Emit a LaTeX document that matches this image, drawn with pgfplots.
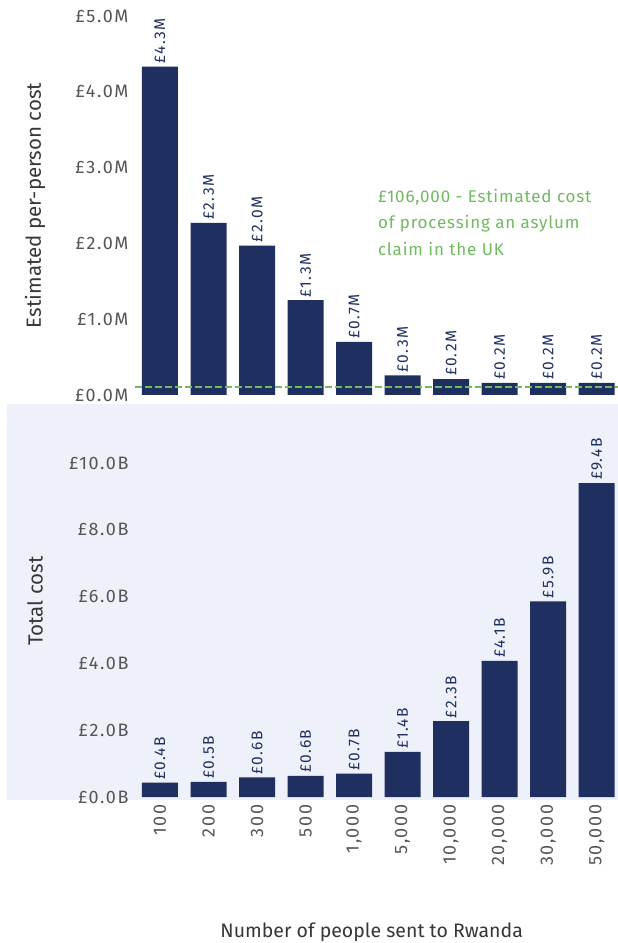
\documentclass[border=0pt]{standalone}
\usepackage{pgfplots}
\pgfplotsset{compat=1.18}
\usepackage{pgfplotstable}
\usepackage{fontspec}
\setmainfont{Fira Sans}
\newfontfamily\widefont[LetterSpace=9]{Fira Sans}

\definecolor{navy}{RGB}{31,48,96}
\definecolor{panel}{RGB}{238,241,250}
\definecolor{annot}{RGB}{112,186,96}
\definecolor{ticktxt}{RGB}{85,85,85}
\definecolor{labtxt}{RGB}{55,55,55}

% per-person cost (GBP millions)
\pgfplotstableread{
x val lab
0 4.33 £4.3M
1 2.27 £2.3M
2 1.97 £2.0M
3 1.25 £1.3M
4 0.70 £0.7M
5 0.26 £0.3M
6 0.21 £0.2M
7 0.16 £0.2M
8 0.16 £0.2M
9 0.16 £0.2M
}\perperson

% total cost (GBP billions)
\pgfplotstableread{
x val lab
0 0.43 £0.4B
1 0.45 £0.5B
2 0.59 £0.6B
3 0.63 £0.6B
4 0.70 £0.7B
5 1.35 £1.4B
6 2.27 £2.3B
7 4.08 £4.1B
8 5.86 £5.9B
9 9.40 £9.4B
}\total

\pgfplotsset{
  panelbars/.style={
    scale only axis,
    width=483pt,
    xmin=-0.515, xmax=9.44,
    ymin=0,
    axis line style={draw=none},
    tick style={draw=none},
    clip=false,
    ybar, bar width=36pt,
    tick label style={font=\widefont\fontsize{18}{19}\selectfont, color=ticktxt},
    yticklabel style={xshift=-3pt},
    nodes near coords,
    point meta=explicit symbolic,
    nodes near coords style={rotate=90, anchor=west, font=\widefont\fontsize{15.5}{16}\selectfont, color=navy, inner sep=3pt},
    every axis y label/.style={at={(axis description cs:-0.207,0.5)}, rotate=90, anchor=center, font=\fontsize{20.5}{22}\selectfont, color=labtxt},
  },
}

\begin{document}
\begin{tikzpicture}
\path[use as bounding box] (0pt,0pt) rectangle (618pt,943pt);
\fill[white] (0pt,0pt) rectangle (618pt,943pt);
\fill[panel] (7pt,143pt) rectangle (618pt,539pt);

\begin{axis}[
    panelbars,
    at={(135pt,548pt)}, anchor=south west,
    height=395pt,
    ymax=5.21,
    ytick={0,1,2,3,4,5},
    yticklabels={£0.0M,£1.0M,£2.0M,£3.0M,£4.0M,£5.0M},
    xtick=\empty,
    ylabel={Estimated per-person cost},
    every axis y label/.append style={at={(axis description cs:-0.207,0.48)}},
]
\addplot[fill=navy, draw=none] table[x=x, y=val, meta=lab] {\perperson};
\draw[annot, line width=1.6pt, dash pattern=on 7pt off 3pt] (axis cs:-0.52,0.106) -- (axis cs:9.44,0.106);
\node[anchor=north west, align=left, text=annot, font=\addfontfeatures{LetterSpace=5}\fontsize{17}{26.5}\selectfont, inner sep=0pt] at (axis cs:4.49,2.72)
  {£106,000 - Estimated cost\\of processing an asylum\\claim in the UK};
\end{axis}

\begin{axis}[
    panelbars,
    at={(135pt,146pt)}, anchor=south west,
    height=392pt,
    ymax=11.74,
    ytick={0,2,4,6,8,10},
    yticklabels={£0.0B,£2.0B,£4.0B,£6.0B,£8.0B,£10.0B},
    xtick={0,1,2,3,4,5,6,7,8,9},
    xticklabels={100,200,300,500,{1,000},{5,000},{10,000},{20,000},{30,000},{50,000}},
    xticklabel style={rotate=90, anchor=east},
    ylabel={Total cost},
    xlabel={Number of people sent to Rwanda},
    xlabel style={at={(axis description cs:0.49,-0.344)}, anchor=center, font=\fontsize{19.5}{21}\selectfont, color=labtxt},
]
\addplot[fill=navy, draw=none] table[x=x, y=val, meta=lab] {\total};
\end{axis}
\end{tikzpicture}
\end{document}
